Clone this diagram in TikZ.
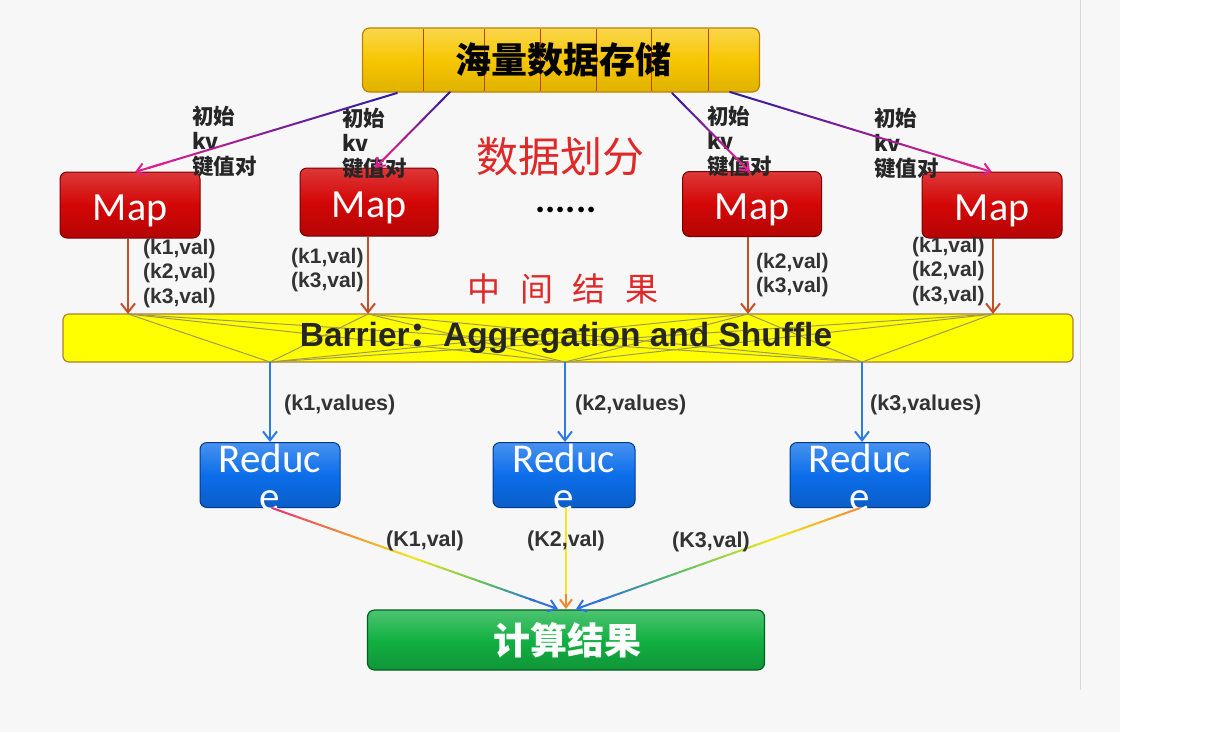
\documentclass[tikz,border=0pt]{standalone}
\usepackage{fontspec}
\setmainfont{Carlito}
\newfontfamily\cjk{Noto Sans CJK SC}
\newfontfamily\barfont{Liberation Sans}
\usetikzlibrary{calc,arrows.meta}
\definecolor{bggray}{HTML}{F7F7F7}
\definecolor{gold}{HTML}{F7C600}
\definecolor{goldb}{HTML}{C08000}
\definecolor{divc}{HTML}{C04000}
\definecolor{mapred}{HTML}{D40606}
\definecolor{mapredb}{HTML}{7A0000}
\definecolor{baryel}{HTML}{FFFF00}
\definecolor{barb}{HTML}{B08030}
\definecolor{redblue}{HTML}{0C6EEA}
\definecolor{redblueb}{HTML}{003A8C}
\definecolor{resgreen}{HTML}{12B042}
\definecolor{resgreenb}{HTML}{006020}
\definecolor{brownar}{HTML}{C4502A}
\definecolor{bluear}{HTML}{2C7CE6}
\definecolor{txtred}{HTML}{E02828}
\definecolor{dblue}{HTML}{2A1CA0}
\definecolor{mag}{HTML}{E0208C}
\definecolor{rpink}{HTML}{E8307A}
\definecolor{rorange}{HTML}{F08A30}
\definecolor{ryellow}{HTML}{F2E81C}
\definecolor{rgreen}{HTML}{58C060}
\definecolor{rblue}{HTML}{2F70E0}
\definecolor{meshc}{HTML}{A09A50}
% #1 start, #2 end, #3 #4 fractions, #5 colour at #3, #6 colour at #4
\newcommand\gradseg[6]{%
  \foreach \k in {0,...,9}{%
    \pgfmathsetmacro\fa{#3+(#4-#3)*\k/10}%
    \pgfmathsetmacro\fb{#3+(#4-#3)*(\k+1)/10}%
    \pgfmathtruncatemacro\pc{95-\k*10}%
    \draw[line width=2pt, line cap=round, draw=#5!\pc!#6] ($(#1)!\fa!(#2)$) -- ($(#1)!\fb!(#2)$);
  }}
\tikzset{
  mapbox/.style={draw=mapredb, line width=1pt, top color=mapred!80!white, bottom color=mapred!85!black, middle color=mapred,
    rounded corners=7pt, minimum width=140pt, minimum height=66pt, inner sep=0pt},
  maptext/.style={text=white, font=\fontsize{40}{40}\selectfont, inner sep=0pt, anchor=base},
  redbox/.style={draw=redblueb, line width=1pt, top color=redblue!75!white, bottom color=redblue!85!black, middle color=redblue,
    rounded corners=7pt, minimum width=140pt, minimum height=65pt, inner sep=0pt},
  redtext/.style={text=white, font=\fontsize{41}{41}\selectfont, inner sep=0pt, anchor=base},
  kvlab/.style={font=\cjk\bfseries\fontsize{21.5}{25}\selectfont, align=left, anchor=north west, inner sep=0pt, text=black!85},
  vallab/.style={font=\barfont\bfseries\fontsize{21}{24.5}\selectfont, align=left, anchor=north west, inner sep=0pt, text=black!80},
  vlab/.style={font=\barfont\bfseries\fontsize{21.5}{22}\selectfont, inner sep=0pt, text=black!80},
  downar/.style={draw=brownar, line width=2pt, -{Straight Barb[length=9pt,width=14pt,line width=2pt]}},
  bluearr/.style={draw=bluear, line width=2pt, -{Straight Barb[length=9pt,width=14pt,line width=2pt]}},
  headar/.style={line width=2pt, -{Straight Barb[length=8pt,width=12pt,line width=2pt]}},
  mesh/.style={draw=meshc, line width=1pt},
}
\begin{document}
\begin{tikzpicture}[x=1pt,y=-1pt]
\useasboundingbox (0,0) rectangle (1207,732);
\fill[white] (0,0) rectangle (1207,732);
\fill[bggray] (0,0) rectangle (1120,732);
\draw[black!15, line width=1pt] (1080,0) -- (1080,690);

% top storage box
\node[draw=goldb, line width=1.2pt, top color=gold!70!white, bottom color=gold!90!black, middle color=gold,
  rounded corners=7pt, minimum width=397pt, minimum height=64pt, inner sep=0pt] (top) at (561,60) {};
\foreach \xx in {423,484,540,596,651,708}
  \draw[divc, line width=0.8pt] (\xx,29) -- (\xx,91);
\node[font=\cjk\bfseries\fontsize{36}{36}\selectfont, text=black] (toplab) at (563,60) {海量数据存储};

% map boxes
\node[mapbox] (m1) at (130,205) {};
\node[mapbox, minimum width=138pt, minimum height=68pt] (m2) at (369,202) {};
\node[mapbox, minimum width=139pt, minimum height=65pt] (m3) at (752,204) {};
\node[mapbox] (m4) at (992,205) {};
\foreach \m in {m1,m2,m3,m4}
  \node[maptext] at ($(\m.center)+(0,15)$) {Map};

% labels initial kv
\node[kvlab] (l1) at (192,106) {初始\\kv\\键值对};
\node[kvlab] (l2) at (342,108) {初始\\kv\\键值对};
\node[kvlab] (l3) at (707,106) {初始\\kv\\键值对};
\node[kvlab] (l4) at (874,108) {初始\\kv\\键值对};

% distribution arrows
\coordinate (t1) at (397,93);
\coordinate (t2) at (450,92);
\coordinate (t3) at (672,93);
\coordinate (t4) at (730,92);
\coordinate (e1) at (135,172);
\coordinate (e2) at (375,168);
\coordinate (e3) at (750,172);
\coordinate (e4) at (992,172);
\gradseg{t1}{e1}{0}{0.95}{dblue}{mag}
\gradseg{t2}{e2}{0}{0.9}{dblue}{mag}
\gradseg{t3}{e3}{0}{0.9}{dblue}{mag}
\gradseg{t4}{e4}{0}{0.95}{dblue}{mag}
\foreach \i in {1,2,3,4}
  \draw[headar, mag] ($(t\i)!0.88!(e\i)$) -- (e\i);

% center texts
\node[font=\cjk\fontsize{42}{42}\selectfont, text=txtred] (split) at (560,157) {数据划分};
\node[font=\bfseries\fontsize{38}{38}\selectfont, inner sep=0pt, anchor=base] (dots) at (566,212) {\smash{......}};
\node[font=\cjk\fontsize{33}{33}\selectfont, text=txtred] (mid) at (563,289) {中\hspace{0.6em}间\hspace{0.6em}结\hspace{0.6em}果};

% barrier
\node[draw=barb, line width=1.2pt, fill=baryel, rounded corners=6pt, minimum width=1010pt, minimum height=48pt, inner sep=0pt] (bar) at (568,338) {};
\coordinate (p1) at (128,314);
\coordinate (p2) at (368,314);
\coordinate (p3) at (748,314);
\coordinate (p4) at (993,314);
\coordinate (q1) at (270,362);
\coordinate (q2) at (565,362);
\coordinate (q3) at (862,362);
\foreach \i in {1,2,3,4}
  \foreach \j in {1,2,3}
    \draw[mesh] (p\i) -- (q\j);
\node[font=\barfont\bfseries\fontsize{33.5}{34}\selectfont, text=black!85] (bartext) at (566,338) {Barrier{\cjk：}Aggregation and Shuffle};

% map down arrows
\draw[downar] (m1.south -| p1) -- (p1);
\draw[downar] (m2.south -| p2) -- (p2);
\draw[downar] (m3.south -| p3) -- (p3);
\draw[downar] (m4.south -| p4) -- (p4);

\node[vallab] (v1) at (143,239) {(k1,val)\\(k2,val)\\(k3,val)};
\node[vallab] (v2) at (291,248) {(k1,val)\\(k3,val)};
\node[vallab] (v3) at (756,253) {(k2,val)\\(k3,val)};
\node[vallab] (v4) at (912,237) {(k1,val)\\(k2,val)\\(k3,val)};

% reduce boxes
\node[redbox] (r1) at (270,475) {};
\node[redbox, minimum width=142pt] (r2) at (564,475) {};
\node[redbox] (r3) at (860,475) {};
\foreach \r in {r1,r2,r3}{
  \node[redtext] at ($(\r.center)+(0,-3)$) {Reduc};
  \node[redtext] at ($(\r.center)+(0,35)$) {e};
}

\draw[bluearr] (q1) -- (r1.north -| q1);
\draw[bluearr] (q2) -- (r2.north -| q2);
\draw[bluearr] (q3) -- (r3.north -| q3);
\node[vlab, anchor=west] (k1v) at (284,405) {(k1,values)};
\node[vlab, anchor=west] (k2v) at (575,405) {(k2,values)};
\node[vlab, anchor=west] (k3v) at (870,405) {(k3,values)};

% result box
\node[draw=resgreenb, line width=1.2pt, top color=resgreen!75!white, bottom color=resgreen!85!black, middle color=resgreen,
  rounded corners=7pt, minimum width=397pt, minimum height=60pt, inner sep=0pt] (res) at (566,640) {};
\node[font=\cjk\bfseries\fontsize{37}{37}\selectfont, text=white] (reslab) at (567,640) {计算结果};

% rainbow arrows
\coordinate (s1) at (272,508);
\coordinate (s2) at (566,508);
\coordinate (s3) at (860,508);
\coordinate (f1) at (558,609);
\coordinate (f2) at (566,609);
\coordinate (f3) at (576,609);
\gradseg{s1}{f1}{0}{0.25}{rpink}{rorange}
\gradseg{s1}{f1}{0.25}{0.5}{rorange}{ryellow}
\gradseg{s1}{f1}{0.5}{0.75}{ryellow}{rgreen}
\gradseg{s1}{f1}{0.75}{0.92}{rgreen}{rblue}
\draw[headar, rblue] ($(s1)!0.9!(f1)$) -- (f1);
\gradseg{s3}{f3}{0}{0.3}{rorange}{ryellow}
\gradseg{s3}{f3}{0.3}{0.65}{ryellow}{rgreen}
\gradseg{s3}{f3}{0.65}{0.92}{rgreen}{rblue}
\draw[headar, rblue] ($(s3)!0.9!(f3)$) -- (f3);
\gradseg{s2}{f2}{0}{0.85}{ryellow}{ryellow}
\draw[headar, rorange] ($(s2)!0.85!(f2)$) -- (f2);
\node[vlab] (kk1) at (425,541) {(K1,val)};
\node[vlab] (kk2) at (566,541) {(K2,val)};
\node[vlab] (kk3) at (711,542) {(K3,val)};
\end{tikzpicture}
\end{document}
